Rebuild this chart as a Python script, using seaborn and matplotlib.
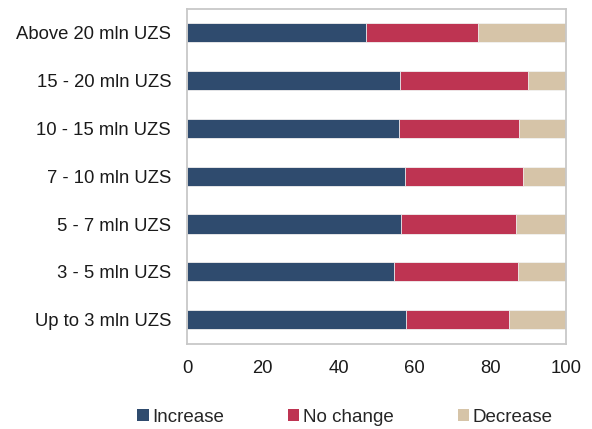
import matplotlib
matplotlib.use("Agg")
import matplotlib.pyplot as plt
import seaborn as sns
import pandas as pd
import numpy as np

# Income groups (top to bottom) and share of answers, %
groups = ["Above 20 mln UZS", "15 - 20 mln UZS", "10 - 15 mln UZS",
          "7 - 10 mln UZS", "5 - 7 mln UZS", "3 - 5 mln UZS", "Up to 3 mln UZS"]
increase = [47.2, 56.2, 55.9, 57.5, 56.5, 54.6, 57.7]
no_change = [29.5, 33.9, 31.6, 31.2, 30.2, 32.8, 27.3]
decrease = [23.3, 9.9, 12.5, 11.3, 13.3, 12.6, 15.0]

series = ["Increase", "No change", "Decrease"]
colors = ["#2F4B6E", "#BE3452", "#D6C4A8"]

sns.set_theme(style="white")
plt.rcParams["font.family"] = ["Liberation Sans", "DejaVu Sans"]

df = pd.DataFrame({"group": groups, "Increase": increase,
                   "No change": no_change, "Decrease": decrease})
# cumulative right edges for the stacked segments
cum = df[series].cumsum(axis=1)

fig = plt.figure(figsize=(5.92, 4.29), dpi=100)
ax = fig.add_axes([187 / 592, 1 - 343.5 / 429, (566 - 187) / 592, (343.5 - 9) / 429])

# draw from the outermost segment inward so each layer covers the previous
for name, color in reversed(list(zip(series, colors))):
    sns.barplot(x=cum[name], y=df["group"], orient="h", color=color,
                width=0.4, edgecolor="#f2f2f2", linewidth=0.6,
                saturation=1, ax=ax, label=name)

ax.set_xlim(0, 100)
ax.set_xticks([0, 20, 40, 60, 80, 100])
ax.set_xlabel("")
ax.set_ylabel("")
ax.tick_params(axis="x", length=0, pad=12, labelsize=13.3, colors="#1a1a1a")
ax.tick_params(axis="y", length=0, pad=11.5, labelsize=13.3, colors="#1a1a1a")
for s in ax.spines.values():
    s.set_visible(True)
    s.set_color("#c8c8c8")
    s.set_linewidth(1.3)

handles, labels = ax.get_legend_handles_labels()
if ax.get_legend() is not None:
    ax.get_legend().remove()
order = [labels.index(n) for n in series]
leg = fig.legend([handles[i] for i in order], [labels[i] for i in order],
                 loc="center", bbox_to_anchor=(345 / 592, 1 - 417 / 429),
                 ncol=3, frameon=False, fontsize=13.5,
                 handlelength=0.6, handleheight=0.6, handletextpad=0.2,
                 columnspacing=3.4, borderaxespad=0)
for h in leg.legend_handles:
    h.set_edgecolor("none")

fig.savefig("out.png", dpi=100)
